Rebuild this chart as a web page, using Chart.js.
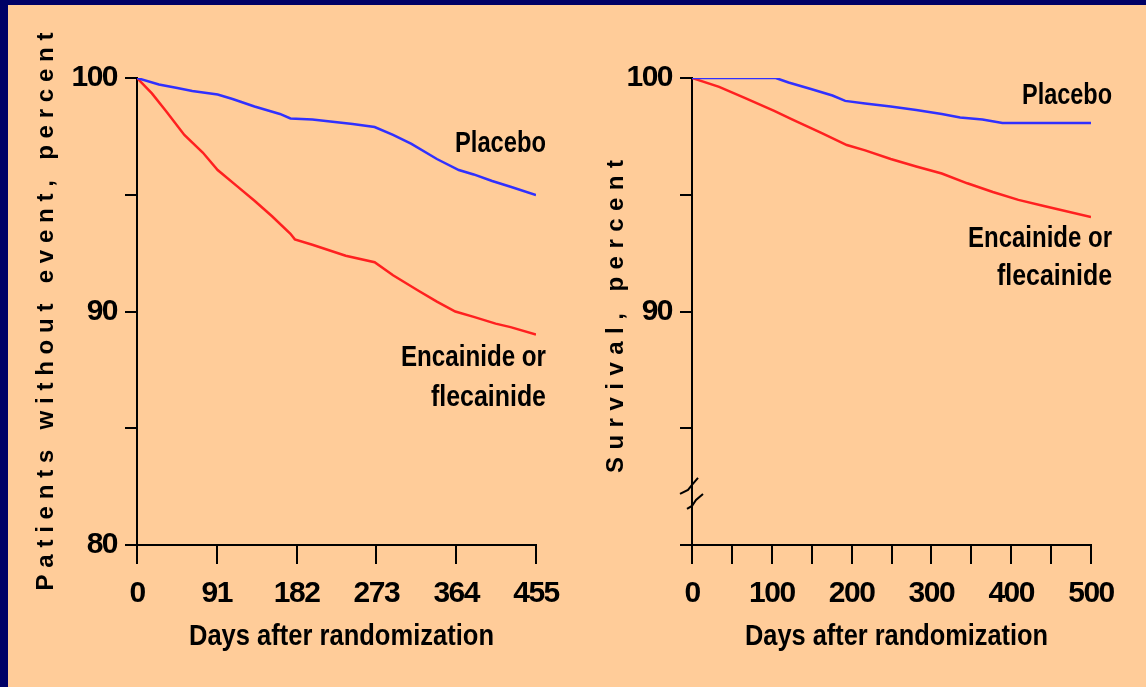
<!DOCTYPE html>
<html>
<head>
<meta charset="utf-8">
<script src="https://cdn.jsdelivr.net/npm/chart.js@4.4.1/dist/chart.umd.min.js"></script>
<style>
    html, body { margin: 0; padding: 0; width: 1146px; height: 687px; overflow: hidden; background: #000066; }
    #panel { position: absolute; left: 8px; top: 5px; width: 1138px; height: 682px; background: #ffcc99; }
    canvas { position: absolute; top: 5px; }
    #left { left: 8px; }
    #right { left: 573px; }
</style>
</head>
<body>
<div id="panel"></div>
<canvas id="left" width="565" height="682"></canvas>
<canvas id="right" width="573" height="682"></canvas>
<script>
// Left panel: patients without event
const daysPlaceboL = [0, 25, 46, 63, 92, 109, 134, 163, 175, 200, 246, 271, 292, 313, 342, 367, 384, 405, 426, 455];
const pctPlaceboL  = [100, 99.72, 99.57, 99.44, 99.29, 99.10, 98.78, 98.46, 98.27, 98.22, 98.03, 97.90, 97.56, 97.18, 96.53, 96.06, 95.87, 95.59, 95.34, 94.99];
const daysDrugL = [0, 17, 33, 54, 75, 92, 113, 134, 154, 175, 180, 200, 238, 271, 292, 321, 342, 363, 384, 409, 426, 455];
const pctDrugL  = [100, 99.34, 98.59, 97.56, 96.81, 96.06, 95.40, 94.74, 94.08, 93.33, 93.09, 92.86, 92.39, 92.11, 91.55, 90.89, 90.42, 90.00, 89.77, 89.48, 89.33, 89.01];
const xTicksL = [0, 91, 182, 273, 364, 455];

// Right panel: survival
const daysPlaceboR = [0, 105, 121, 149, 176, 192, 217, 249, 281, 313, 336, 364, 389, 500];
const pctPlaceboR  = [100, 100, 99.81, 99.53, 99.25, 99.02, 98.91, 98.78, 98.63, 98.46, 98.31, 98.22, 98.07, 98.07];
const daysDrugR = [0, 34, 66, 103, 126, 162, 194, 217, 249, 281, 313, 345, 377, 409, 441, 500];
const pctDrugR  = [100, 99.62, 99.15, 98.59, 98.22, 97.65, 97.13, 96.90, 96.53, 96.21, 95.91, 95.49, 95.12, 94.78, 94.52, 94.05];
const xTicksR = [0, 100, 200, 300, 400, 500];
const xMinorR = [50, 150, 250, 350, 450];

const yLabelsL = [80, 90, 100];
const yLabelsR = [90, 100];

const FONT = "'Liberation Sans', Arial, sans-serif";
const BLUE = '#3030ff';
const RED = '#ff2020';

function points(xs, ys) {
    return xs.map((d, i) => ({ x: d, y: ys[i] }));
}

// draw text squeezed (or spaced out) to a given width, starting at left
function fitText(ctx, text, left, y, size, width, spaced) {
    ctx.font = `bold ${size}px ${FONT}`;
    ctx.letterSpacing = '0px';
    ctx.textAlign = 'left';
    const w = ctx.measureText(text).width;
    if (spaced) {
        ctx.letterSpacing = ((width - w) / (text.length - 1)) + 'px';
        ctx.fillText(text, left, y);
        ctx.letterSpacing = '0px';
    } else {
        ctx.save();
        ctx.translate(left, y);
        ctx.scale(width / w, 1);
        ctx.fillText(text, 0, 0);
        ctx.restore();
    }
}

// titles, curve labels, minor ticks and the axis break
const decor = {
    id: 'decor',
    beforeDraw(chart) {
        chart.ctx.letterSpacing = '-1.5px';
    },
    afterDraw(chart, args, opts) {
        const { ctx, chartArea: a, scales: { x, y } } = chart;
        ctx.save();
        ctx.fillStyle = '#000';
        ctx.strokeStyle = '#000';
        ctx.textBaseline = 'middle';

        const cx = (a.left + a.right) / 2 + 5;
        fitText(ctx, 'Days after randomization', cx - opts.xTitleW / 2, 632, 29, opts.xTitleW, false);

        ctx.save();
        ctx.translate(opts.yTitleX, (a.top + a.bottom) / 2 + opts.yTitleDy);
        ctx.rotate(-Math.PI / 2);
        fitText(ctx, opts.yTitle, -opts.yTitleW / 2, 0, 24, opts.yTitleW, true);
        ctx.restore();

        const rx = a.right + opts.noteDx;
        opts.notes.forEach(n => {
            fitText(ctx, n.text, rx - n.w, y.getPixelForValue(n.value), 29, n.w, false);
        });

        ctx.lineWidth = 2;
        (opts.minorTicks || []).forEach(v => {
            const px = Math.round(x.getPixelForValue(v));
            ctx.beginPath();
            ctx.moveTo(px, x.top);
            ctx.lineTo(px, x.top + 12);
            ctx.stroke();
        });
        if (opts.breakAt) {
            const cy = y.getPixelForValue(opts.breakAt);
            const ax = a.left;
            ctx.beginPath();
            ctx.moveTo(ax - 12, cy - 2);
            ctx.lineTo(ax - 4, cy - 6);
            ctx.lineTo(ax, cy - 11);
            ctx.lineTo(ax + 6, cy - 18);
            ctx.moveTo(ax - 5, cy + 13);
            ctx.lineTo(ax, cy + 10);
            ctx.lineTo(ax + 4, cy + 4);
            ctx.lineTo(ax + 11, cy - 2);
            ctx.stroke();
        }
        ctx.restore();
    }
};

function makeChart(id, cfg) {
    const tickFont = { family: FONT, size: 30, weight: 'bold' };
    new Chart(document.getElementById(id), {
        type: 'line',
        data: {
            datasets: [
                { data: points(cfg.placeboDays, cfg.placeboPct), borderColor: BLUE },
                { data: points(cfg.drugDays, cfg.drugPct), borderColor: RED }
            ]
        },
        options: {
            responsive: false,
            animation: false,
            devicePixelRatio: 1,
            elements: {
                line: { borderWidth: 2.5, tension: 0, fill: false },
                point: { radius: 0, hoverRadius: 0 }
            },
            layout: { padding: { left: 0, top: 73, right: cfg.padRight, bottom: 0 } },
            plugins: {
                legend: { display: false },
                tooltip: { enabled: false },
                decor: {
                    yTitle: cfg.yTitle,
                    yTitleX: cfg.yTitleX,
                    yTitleDy: cfg.yTitleDy,
                    yTitleW: cfg.yTitleW,
                    xTitleW: cfg.xTitleW,
                    notes: cfg.notes,
                    noteDx: cfg.noteDx,
                    minorTicks: cfg.minorTicks,
                    breakAt: cfg.breakAt
                }
            },
            scales: {
                x: {
                    type: 'linear',
                    min: 0,
                    max: cfg.xTicks[cfg.xTicks.length - 1],
                    afterFit: s => { s.height = 142; },
                    afterBuildTicks: s => { s.ticks = cfg.xGrid.map(v => ({ value: v })); },
                    border: { color: '#000', width: 2 },
                    grid: {
                        drawOnChartArea: false,
                        tickLength: 19,
                        lineWidth: 2,
                        color: '#000'
                    },
                    ticks: {
                        autoSkip: false,
                        maxRotation: 0,
                        padding: 12,
                        color: '#000',
                        font: tickFont,
                        callback: v => cfg.xTicks.includes(v) ? String(v) : ''
                    }
                },
                y: {
                    min: 80,
                    max: 100,
                    afterFit: s => { s.width = cfg.yWidth; },
                    afterBuildTicks: s => { s.ticks = [80, 85, 90, 95, 100].map(v => ({ value: v })); },
                    border: { color: '#000', width: 2 },
                    grid: {
                        drawOnChartArea: false,
                        tickLength: 12,
                        lineWidth: 2,
                        color: '#000'
                    },
                    ticks: {
                        padding: 8,
                        color: '#000',
                        font: tickFont,
                        callback: v => cfg.yLabels.includes(v) ? String(v) : ''
                    }
                }
            }
        },
        plugins: [decor]
    });
}

makeChart('left', {
    placeboDays: daysPlaceboL, placeboPct: pctPlaceboL,
    drugDays: daysDrugL, drugPct: pctDrugL,
    xTicks: xTicksL, xGrid: xTicksL, yLabels: yLabelsL,
    yWidth: 129, padRight: 36,
    yTitle: 'Patients without event, percent', yTitleX: 38, yTitleDy: 0, yTitleW: 558,
    xTitleW: 305,
    noteDx: 10,
    notes: [
        { text: 'Placebo', value: 97.17, w: 91 },
        { text: 'Encainide or', value: 88.0, w: 145 },
        { text: 'flecainide', value: 86.3, w: 115 }
    ]
});

makeChart('right', {
    placeboDays: daysPlaceboR, placeboPct: pctPlaceboR,
    drugDays: daysDrugR, drugPct: pctDrugR,
    xTicks: xTicksR, xGrid: [...xTicksR, ...xMinorR].sort((p, q) => p - q), yLabels: yLabelsR,
    yWidth: 119, padRight: 55,
    yTitle: 'Survival, percent', yTitleX: 43, yTitleDy: 5, yTitleW: 313,
    xTitleW: 303,
    noteDx: 21,
    minorTicks: xMinorR,
    breakAt: 82.1,
    notes: [
        { text: 'Placebo', value: 99.23, w: 90 },
        { text: 'Encainide or', value: 93.1, w: 144 },
        { text: 'flecainide', value: 91.48, w: 115 }
    ]
});
</script>
</body>
</html>
